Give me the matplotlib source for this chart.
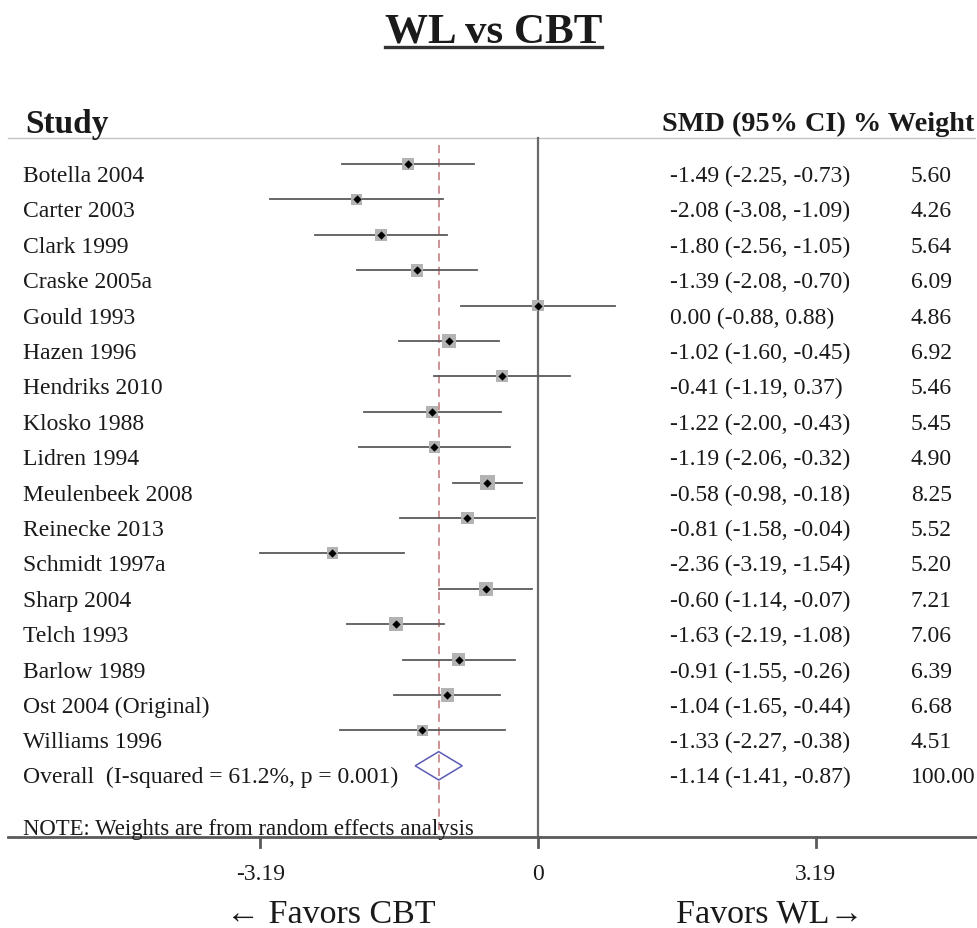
import numpy as np
import matplotlib
matplotlib.use("Agg")
import matplotlib.pyplot as plt
from matplotlib.patches import Polygon

plt.rcParams['font.family'] = ['Liberation Serif', 'DejaVu Serif']

# Estudios incluidos (WL vs CBT)
studies = ['Botella 2004', 'Carter 2003', 'Clark 1999', 'Craske 2005a', 'Gould 1993',
           'Hazen 1996', 'Hendriks 2010', 'Klosko 1988', 'Lidren 1994', 'Meulenbeek 2008',
           'Reinecke 2013', 'Schmidt 1997a', 'Sharp 2004', 'Telch 1993', 'Barlow 1989',
           'Ost 2004 (Original)', 'Williams 1996']
smd = [-1.49, -2.08, -1.80, -1.39, 0.00, -1.02, -0.41, -1.22, -1.19, -0.58,
       -0.81, -2.36, -0.60, -1.63, -0.91, -1.04, -1.33]
ci_low = [-2.25, -3.08, -2.56, -2.08, -0.88, -1.60, -1.19, -2.00, -2.06, -0.98,
          -1.58, -3.19, -1.14, -2.19, -1.55, -1.65, -2.27]
ci_high = [-0.73, -1.09, -1.05, -0.70, 0.88, -0.45, 0.37, -0.43, -0.32, -0.18,
           -0.04, -1.54, -0.07, -1.08, -0.26, -0.44, -0.38]
weights = [5.60, 4.26, 5.64, 6.09, 4.86, 6.92, 5.46, 5.45, 4.90, 8.25,
           5.52, 5.20, 7.21, 7.06, 6.39, 6.68, 4.51]

overall_label = 'Overall  (I-squared = 61.2%, p = 0.001)'
overall_smd, overall_low, overall_high, overall_weight = -1.14, -1.41, -0.87, 100.00
x_ticks = [-3.19, 0, 3.19]

W, H = 978, 929
fig = plt.figure(figsize=(W / 100, H / 100), dpi=100)
ax = fig.add_axes([0, 0, 1, 1])
ax.axis('off')

# escala: 0 en x=538 px, 87.1 px por unidad; filas cada 35.4 px desde y=165
x0, kx = 538, 87.1
y0, ky = 165, 35.4
ax.set_xlim(-x0 / kx, (W - x0) / kx)
ax.set_ylim((H - y0) / ky, -y0 / ky)

n = len(studies)
rows = np.arange(n)
ov_row = n
txt = '#1a1a1a'
base = 0.48          # desplazamiento de la línea base del texto respecto a la fila
y_head = -0.73       # línea bajo el encabezado
y_axis = 19.0        # eje inferior

# líneas de referencia
ax.plot([-6.08, 5.02], [y_head, y_head], color='#c4c4c4', lw=1)
ax.plot([0, 0], [y_head, y_axis], color='#6a6a6a', lw=1.6)
ax.plot([overall_smd, overall_smd], [-0.55, y_axis], color='#c98a8e', lw=1.3,
        dashes=(4.5, 3))
ax.plot([-6.08, 5.1], [y_axis, y_axis], color='#5a5a5a', lw=2)
for t in x_ticks:
    ax.plot([t, t], [y_axis, y_axis + 0.3], color='#5a5a5a', lw=2)

# intervalos de confianza y pesos
for r, lo, hi in zip(rows, ci_low, ci_high):
    ax.plot([lo, hi], [r, r], color='#5a5a5a', lw=1.3, zorder=2)
ax.scatter(smd, rows, marker='s', s=14 * np.array(weights), color='#b3b3b3',
           linewidths=0, zorder=3)
ax.scatter(smd, rows, marker='D', s=18, color='black', linewidths=0, zorder=4)

# diamante del efecto global
diamond = Polygon([(overall_low, ov_row), (overall_smd, ov_row - 0.4),
                   (overall_high, ov_row), (overall_smd, ov_row + 0.4)],
                  closed=True, fill=False, edgecolor='#5b5bb5', lw=1.1, zorder=4)
ax.add_patch(diamond)

# columnas de texto
fs = 17
col_study, col_ci, col_w = -5.913, 1.516, 4.282
for r, name, m, lo, hi, w in zip(rows, studies, smd, ci_low, ci_high, weights):
    ax.text(col_study, r + base, name, fontsize=fs, color=txt, va='baseline')
    ax.text(col_ci, r + base, f'{m:.2f} ({lo:.2f}, {hi:.2f})', fontsize=fs,
            color=txt, va='baseline')
    ax.text(col_w, r + base, f'{w:.2f}', fontsize=fs, color=txt, va='baseline')
ax.text(col_study, ov_row + 0.46, overall_label, fontsize=fs, color=txt, va='baseline')
ax.text(col_ci, ov_row + 0.46,
        f'{overall_smd:.2f} ({overall_low:.2f}, {overall_high:.2f})',
        fontsize=fs, color=txt, va='baseline')
ax.text(col_w, ov_row + 0.46, f'{overall_weight:.2f}', fontsize=fs, color=txt,
        va='baseline')
ax.text(col_study, 18.92, 'NOTE: Weights are from random effects analysis',
        fontsize=16.4, color=txt, va='baseline')

# encabezados
ax.text(-5.89, -0.9, 'Study', fontsize=24, fontweight='bold', color=txt,
        va='baseline')
ax.text(1.424, -0.96, 'SMD (95% CI) % Weight', fontsize=20.3, fontweight='bold',
        color=txt, va='baseline')

# etiquetas del eje
for t in x_ticks:
    ax.text(t, 20.2, f'{t:g}', fontsize=fs, color=txt, va='baseline', ha='center')
ax.text(-2.38, 21.41, '\u2190 Favors CBT', fontsize=24.5, color=txt,
        va='baseline', ha='center')
ax.text(2.66, 21.41, 'Favors WL\u2192', fontsize=24.5, color=txt,
        va='baseline', ha='center')

# título subrayado
title = ax.text(-0.51, -3.47, 'WL vs CBT', fontsize=31, fontweight='bold', color=txt,
                va='baseline', ha='center')
fig.canvas.draw()
bb = title.get_window_extent()
fig.add_artist(plt.Line2D([bb.x0 / W, bb.x1 / W], [1 - 48 / H, 1 - 48 / H],
                          color='#333333', lw=2.4, transform=fig.transFigure))

fig.savefig('out.png', dpi=100)
